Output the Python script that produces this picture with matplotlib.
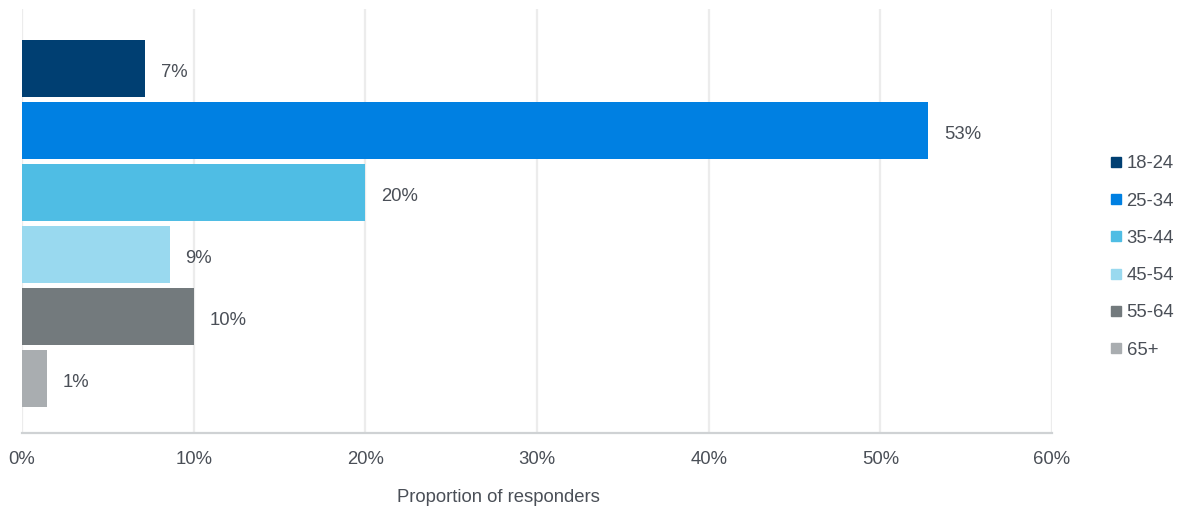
import matplotlib
matplotlib.use("Agg")
import matplotlib.pyplot as plt
from matplotlib.lines import Line2D

plt.rcParams['font.family'] = ['Liberation Sans', 'DejaVu Sans']

# Age bands and share of responders (percent)
age_groups = ["18-24", "25-34", "35-44", "45-54", "55-64", "65+"]
shares = [7.15, 52.8, 20.0, 8.6, 10.0, 1.45]
colors = ["#003f72", "#0080e2", "#4fbde4", "#99d9ef", "#737a7d", "#a9adb0"]
x_ticks = [0, 10, 20, 30, 40, 50, 60]
x_tick_labels = [f"{t}%" for t in x_ticks]

W, H = 1182, 509
FS = 13.3
fig = plt.figure(figsize=(W / 100, H / 100), dpi=100)
ax = fig.add_axes([22 / W, (H - 433) / H, (1052 - 22) / W, (433 - 9) / H])

text_color = "#4a4f57"
ypos = list(range(len(age_groups)))
ax.barh(ypos, shares, height=57 / 62, color=colors, zorder=3)

for y, v in zip(ypos, shares):
    ax.annotate(f"{round(v)}%", xy=(v, y), xytext=(11.5, -1.5), textcoords="offset points",
                va="center_baseline", ha="left", fontsize=FS, color=text_color)

ax.set_xlim(0, 60)
ax.set_ylim(5.5 + 24 / 62, -0.5 - 28 / 62)
ax.set_xticks(x_ticks)
ax.set_xticklabels(x_tick_labels, fontsize=FS, color=text_color)
ax.set_yticks([])
ax.tick_params(axis="x", length=0, pad=13)
ax.grid(axis="x", color="#ececec", linewidth=1.6, zorder=0)
for side in ("top", "right", "left"):
    ax.spines[side].set_visible(False)
ax.spines["bottom"].set_color("#cfd2d4")
ax.spines["bottom"].set_linewidth(1.6)
ax.spines["bottom"].set_zorder(4)

fig.text(498 / W, 1 - 498 / H, "Proportion of responders", ha="center", va="center",
         fontsize=FS, color=text_color)

handles = [Line2D([], [], marker="s", linestyle="none", markersize=7.5,
                  markerfacecolor=c, markeredgecolor=c) for c in colors]
leg = fig.legend(handles, age_groups, loc="center left", bbox_to_anchor=(1109 / W, 1 - 257 / H),
                 frameon=False, fontsize=FS, labelspacing=1.1, handlelength=0.8,
                 handletextpad=0.15, borderaxespad=0, borderpad=0)
for t in leg.get_texts():
    t.set_color(text_color)

fig.savefig("out.png", dpi=100)
